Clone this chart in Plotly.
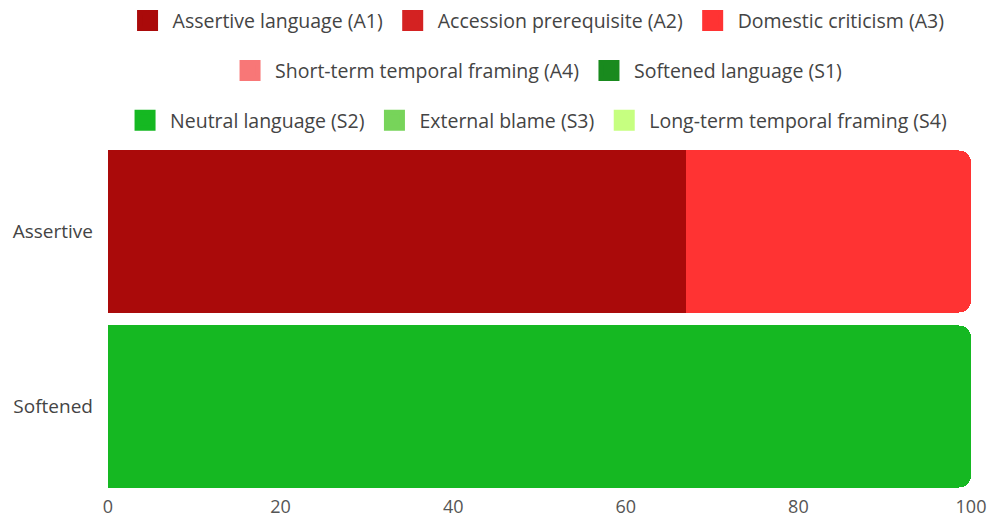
import plotly.graph_objects as go

categories = ["Assertive", "Softened"]
series_names = [
    "Assertive language (A1)", "Accession prerequisite (A2)", "Domestic criticism (A3)",
    "Short-term temporal framing (A4)", "Softened language (S1)",
    "Neutral language (S2)", "External blame (S3)", "Long-term temporal framing (S4)",
]
series_values = [
    [67, None],
    [None, None],
    [33, None],
    [None, None],
    [None, None],
    [None, 100],
    [None, None],
    [None, None],
]
series_colors = ["#AA0A0A", "#D42222", "#FF3333", "#F87777",
                 "#198A1E", "#15B822", "#77D45A", "#C6FF80"]
legend_rows = ["legend", "legend", "legend", "legend2", "legend2",
               "legend3", "legend3", "legend3"]
x_ticks = [0, 20, 40, 60, 80, 100]

fig = go.Figure()
for name, vals, col in zip(series_names, series_values, series_colors):
    fig.add_trace(go.Bar(
        y=categories, x=vals, name=name, orientation="h",
        marker=dict(color=col, line=dict(width=0)), showlegend=False,
        legendgroup=name,
    ))
# legend entries (larger square swatches)
for name, col, lg in zip(series_names, series_colors, legend_rows):
    fig.add_trace(go.Scatter(
        x=[None], y=[None], mode="markers", name=name, legend=lg, legendgroup=name,
        marker=dict(symbol="square", size=16, color=col, line=dict(color=col, width=5)),
        hoverinfo="skip",
    ))

leg_common = dict(orientation="h", xanchor="center", x=0.496, yanchor="middle",
                  traceorder="normal", itemwidth=40,
                  font=dict(family="Open Sans", size=19.5, color="#444"),
                  bgcolor="rgba(0,0,0,0)")
fig.update_layout(
    width=991, height=518,
    margin=dict(l=108, r=20, t=143.5, b=23.5, autoexpand=False),
    barmode="stack", bargap=0.074, barcornerradius=12,
    plot_bgcolor="white", paper_bgcolor="white",
    font=dict(family="Open Sans", color="#444"),
    legend=dict(y=1.352, **leg_common),
    legend2=dict(y=1.209, **leg_common),
    legend3=dict(y=1.067, **leg_common),
    xaxis=dict(range=[0, 100], tickvals=x_ticks, showgrid=False, zeroline=False,
               showline=False, tickfont=dict(size=18, color="#555"), automargin=False),
    yaxis=dict(type="category", autorange="reversed", showgrid=False, showline=False,
               tickfont=dict(size=19, color="#444"), ticklabelstandoff=14,
               automargin=False),
)
fig.write_html("out.html")
